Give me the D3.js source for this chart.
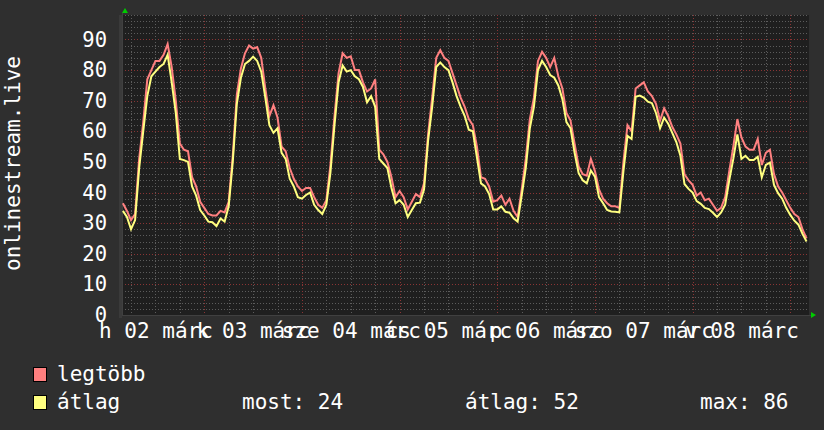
<!DOCTYPE html>
<html><head><meta charset="utf-8">
<script src="https://cdn.jsdelivr.net/npm/d3@7"></script>
<style>
html,body{margin:0;padding:0;background:#2f2f2f;}
svg{display:block;}
text{font-family:"DejaVu Sans Mono",monospace;fill:#ffffff;}
</style></head><body>
<svg id="c" width="824" height="430"></svg>
<script>
// ---- data ----
const seriesStart = "2020-03-02T04:00:00Z"; // hourly samples
const avgValues = [
34,32,28,31,48,60,71.5,78,79.5,81,82,85,76,66,51,50.6,50,42,39,34.3,32.5,30.5,30.3,29,
31.5,30.5,35.5,50,69,77.5,82,83,84.4,83,79.5,71,62,59.5,61,53,51,44.5,42,38.5,38,39.2,40,36,
34.3,33,36,46.5,62,76,81.5,79.5,80,78,77,74.5,69.5,71.5,68,51,49.5,48,41.5,36.5,37.5,36,32,34.3,
36.5,36.7,41,57,68,81,82.5,81,80,76,71.5,68,65,60.5,60,51.5,43,42,39.5,34.5,34.5,35.5,33.7,33.4,
31.6,30.5,39,48,61,68,80,83,81,78.4,77.5,75,70.5,63,61,53,46.3,44,43,47.2,45.2,38.5,36.5,34.3,
33.8,33.7,33.5,47,58.5,57.5,71.3,71.7,71,69.7,69.2,66,61,64.5,62.5,59.5,56.5,52,42.8,41.2,40,37.2,36.3,35,
34.6,33.4,32,33.5,36,44,51,59,51,52,50.6,50.6,51.7,45,49,49.8,42.5,39.8,38,35,32.7,30.8,29.5,26.5,
24
];
const maxValues = [
36.5,34,31,33,51,63,77,80,83,83,85,88.5,81,70,56,54,53.5,45,42,37,35,33,32.5,32.5,
34,33.5,37,52,72,80.5,85.5,88,87,87.5,84,74,65,68.5,64.5,55,53.5,48,44.5,42,40.5,41.5,41.5,38.5,
36,35,37.5,49,65,79,85.5,84,84.5,80,80,76,73,74,77,54,52.5,50,45,38.5,40.5,38.5,34.5,37,
39.5,38.5,43,59,71,84,86.5,84,83,79,75,71,68,64,62,55,45,44.5,42,37,37.5,39,36,38,
34,32,41,51,64,71,83,86,84,81,84,78,74,66,63.5,56,48.5,46,45.5,51,47,41,38,36.5,
35.5,35.5,35,50,62,60,74,75,76,73,71.5,69,63.5,67.5,65,61.5,59,56,46,44,42.5,39,40,37.5,
38,36,34,35,38.5,47,55,64,58,55,54,54,57.5,49,53,54,46,42,40,37.5,35,33,32,28,
25
];
const yTicks = [0,10,20,30,40,50,60,70,80,90];
const dayLabels = ["h 02 márc","k 03 márc","sze 04 márc","cs 05 márc","p 06 márc","szo 07 márc","v 08 márc"];
const seriesNames = ["legtöbb","átlag"];
const seriesColors = ["#ff8080","#ffff80"];
const statLabels = ["most: 24","átlag: 52","max: 86"];
const yTitle = "onlinestream.live";

// ---- layout ----
const svg = d3.select("#c");
const L = 122, R = 809, T = 15, B = 315;
svg.append("rect").attr("width",824).attr("height",430).attr("fill","#2f2f2f");

const x = d3.scaleUtc()
  .domain([new Date("2020-03-02T03:47:00Z"), new Date("2020-03-09T04:36:00Z")])
  .range([L, R]);
const y = d3.scaleLinear().domain([0, 98]).range([B, T]);

const t0 = new Date(seriesStart);
const times = avgValues.map((_, i) => d3.utcHour.offset(t0, i));

// plot background
svg.append("rect").attr("x", L - 3).attr("y", T).attr("width", 3).attr("height", B - T + 3).attr("fill", "#3a3a3a");
svg.append("rect").attr("x", L).attr("y", T).attr("width", R - L).attr("height", B - T).attr("fill", "#1f1f1f");

const grid = svg.append("g").attr("shape-rendering", "crispEdges");
// horizontal grid
const yMinor = y.ticks(49).filter(v => v > 0 && v % 10 !== 0);
const yMajor = yTicks.filter(v => v > 0);
grid.selectAll(".hmin").data(yMinor).join("line")
  .attr("x1", L).attr("x2", R).attr("y1", d => Math.round(y(d)) + 0.5).attr("y2", d => Math.round(y(d)) + 0.5)
  .attr("stroke", "#5c5c5c").attr("stroke-dasharray", "1,2");
grid.selectAll(".hmaj").data(yMajor).join("line")
  .attr("x1", L).attr("x2", R).attr("y1", d => Math.round(y(d)) + 0.5).attr("y2", d => Math.round(y(d)) + 0.5)
  .attr("stroke", "#8a3434").attr("stroke-dasharray", "1,2");
// vertical grid
const xMinor = x.ticks(d3.utcHour.every(6)).filter(d => d.getUTCHours() !== 0);
const xMajor = x.ticks(d3.utcDay.every(1));
grid.selectAll(".vmin").data(xMinor).join("line")
  .attr("x1", d => Math.round(x(d)) + 0.5).attr("x2", d => Math.round(x(d)) + 0.5).attr("y1", T).attr("y2", B + 2)
  .attr("stroke", "#5c5c5c").attr("stroke-dasharray", "1,2");
grid.selectAll(".vmaj").data(xMajor).join("line")
  .attr("x1", d => Math.round(x(d)) + 0.5).attr("x2", d => Math.round(x(d)) + 0.5).attr("y1", T).attr("y2", B + 3)
  .attr("stroke", "#8a3434").attr("stroke-dasharray", "1,2");

// axis lines
svg.append("line").attr("x1", L).attr("x2", R + 2).attr("y1", B + 0.5).attr("y2", B + 0.5).attr("stroke", "#404040");
svg.append("line").attr("x1", L + 0.5).attr("x2", L + 0.5).attr("y1", T - 2).attr("y2", B).attr("stroke", "#404040");

// series lines
const line = d3.line().x((d, i) => x(times[i])).y(d => y(d));
svg.append("path").datum(maxValues).attr("d", line).attr("fill", "none")
  .attr("stroke", seriesColors[0]).attr("stroke-width", 2).attr("stroke-linejoin", "miter");
svg.append("path").datum(avgValues).attr("d", line).attr("fill", "none")
  .attr("stroke", seriesColors[1]).attr("stroke-width", 2).attr("stroke-linejoin", "miter");

// arrows
svg.append("path").attr("d", `M${L},${T - 2} l3,-5 l3,5 Z`).attr("fill", "#00cc00");
svg.append("path").attr("d", `M${R + 2},${B - 3} l5,3 l-5,3 Z`).attr("fill", "#00cc00");

// y axis labels
const yAxis = svg.append("g").attr("transform", `translate(${L},0)`)
  .call(d3.axisLeft(y).tickValues(yTicks).tickSize(0).tickPadding(15));
yAxis.select(".domain").remove();
yAxis.selectAll("text").attr("font-size", 20.5).attr("font-family", "DejaVu Sans Mono").attr("fill", "#fff");

// x axis labels (centred at noon)
const noons = dayLabels.map((_, i) => d3.utcHour.offset(xMajor[0], 12 + 24 * (i - 1)));
const xAxis = svg.append("g").attr("transform", `translate(0,${B})`)
  .call(d3.axisBottom(x).tickValues(noons).tickFormat((d, i) => dayLabels[i]).tickSize(0).tickPadding(8));
xAxis.select(".domain").remove();
xAxis.selectAll("text").attr("font-size", 21).attr("font-family", "DejaVu Sans Mono").attr("fill", "#fff");

// y title
svg.append("text").attr("transform", "translate(20,163.5) rotate(-90)")
  .attr("text-anchor", "middle").attr("font-size", 21).text(yTitle);

// legend
const leg = svg.append("g");
seriesNames.forEach((n, i) => {
  const yy = 367 + i * 28;
  leg.append("rect").attr("x", 33.5).attr("y", yy + 0.5).attr("width", 13).attr("height", 14)
    .attr("fill", seriesColors[i]).attr("stroke", "#000").attr("stroke-width", 1);
  leg.append("text").attr("x", 57).attr("y", yy + 14).attr("font-size", 21).text(n);
});
const statX = [242, 465, 700];
statLabels.forEach((s, i) => {
  leg.append("text").attr("x", statX[i]).attr("y", 409).attr("font-size", 21).text(s);
});
</script>
</body></html>
